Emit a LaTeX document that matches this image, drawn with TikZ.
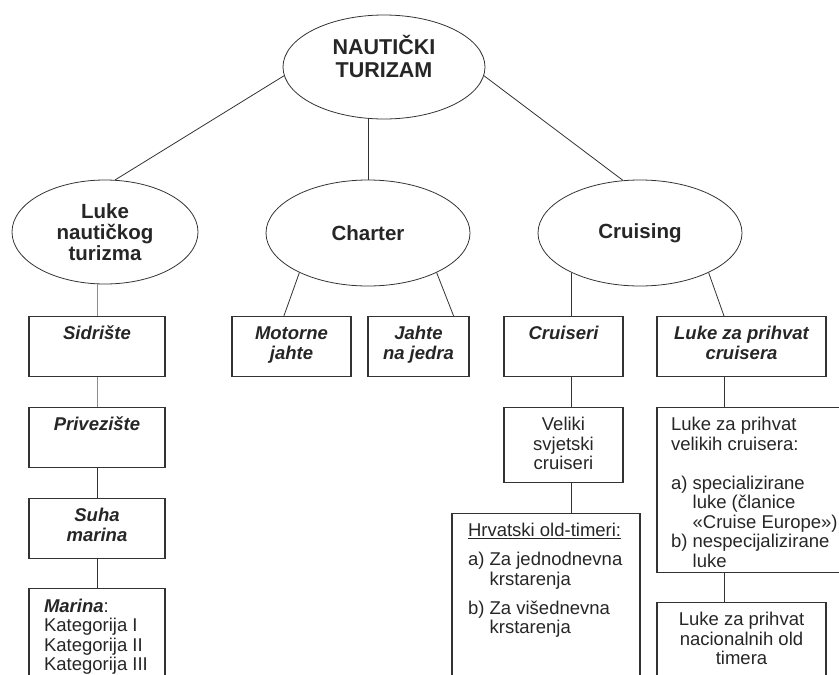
\documentclass[tikz,border=0pt]{standalone}
\usepackage{fontspec}
\setmainfont{Liberation Sans}
\usetikzlibrary{shapes.geometric, positioning}

\newcommand{\itm}[2]{\hangindent=1.17em\hangafter=1\noindent\makebox[1.17em][l]{#1}#2\par}
\newcommand{\boxtext}[3]{\parbox[c][#2][t]{#1}{\fontsize{18.5}{19.5}\selectfont\vspace*{9.5pt}#3}}

\tikzset{
  ell/.style={ellipse, draw=black!80, line width=0.8pt, inner sep=0pt, align=center,
    minimum width=204pt, minimum height=106pt, text=black!85,
    font=\bfseries\fontsize{20.5}{21}\selectfont},
  box/.style={draw=black!80, line width=1.1pt, inner sep=0pt, text=black!85,
    font=\bfseries\itshape},
  plainbox/.style={box, font=\mdseries\upshape},
  link/.style={draw=black!80, line width=0.8pt},
}

\begin{document}
\begin{tikzpicture}[x=1pt, y=-1pt]
    \useasboundingbox (0,0) rectangle (839,675);
    \clip (0,0) rectangle (839,675);
    % ellipses
    \node[ell, minimum width=202pt, minimum height=104pt, text height=38.5pt, text depth=18.1pt,
      font=\bfseries\fontsize{21.5}{22.5}\selectfont] (top) at (384,67) {NAUTIČKI\\TURIZAM};
    \node[ell, minimum width=186pt, minimum height=104pt] (luke) at (105,232) {Luke\\nautičkog\\turizma};
    \node[ell] (charter) at (368,233) {Charter};
    \node[ell] (cruising) at (640,233) {Cruising};
    % first row of boxes
    \node[box, anchor=north] (sid) at (97,316) {\boxtext{136pt}{60pt}{\centering\strut Sidrište}};
    \node[box, anchor=north] (mot) at (291.5,316) {\boxtext{119pt}{60pt}{\centering\strut Motorne\\jahte}};
    \node[box, anchor=north] (jed) at (418.5,316) {\boxtext{101pt}{60pt}{\centering\strut Jahte\\na jedra}};
    \node[box, anchor=north] (cru) at (563.5,316) {\boxtext{119pt}{60pt}{\centering\strut Cruiseri}};
    \node[box, anchor=north] (lzp) at (741.5,316) {\boxtext{169pt}{60pt}{\centering\strut Luke za prihvat\\cruisera}};
    % left column
    \node[box, below=30pt of sid] (priv) {\boxtext{136pt}{60pt}{\centering\strut Privezište}};
    \node[box, below=30pt of priv] (suha) {\boxtext{136pt}{60pt}{\centering\strut Suha\\marina}};
    \node[plainbox, below=29pt of suha] (mar) {\boxtext{136pt}{120pt}{\leftskip=15pt\strut\textbf{\textit{Marina}}:\newline Kategorija I\newline Kategorija II\newline Kategorija III}};
    % cruising columns
    \node[plainbox, below=30pt of cru] (vel) {\boxtext{119pt}{75pt}{\centering\strut Veliki\\svjetski\\cruiseri}};
    \node[plainbox, below=30pt of vel, xshift=-17.5pt] (hrv) {\boxtext{188pt}{190pt}{\leftskip=16pt\strut\underline{Hrvatski old-timeri:}\par\vspace{9.5pt}\itm{a)}{Za jednodnevna\newline krstarenja}\vspace{9.5pt}\itm{b)}{Za višednevna\newline krstarenja}}};
    \node[plainbox, below=30pt of lzp.south west, anchor=north west] (lvc) {\boxtext{200pt}{165pt}{\leftskip=14pt\strut Luke za prihvat\newline velikih cruisera:\par\vspace{19.5pt}\itm{a)}{specializirane\newline luke (članice\newline «Cruise Europe»)}\itm{b)}{nespecijalizirane\newline luke}}};
    \node[plainbox, below=29pt of lvc.south west, anchor=north west] (nac) {\boxtext{169pt}{120pt}{\centering\strut Luke za prihvat\\nacionalnih old\\timera}};
    % column lines
    \coordinate (cx) at (cruising.210);
    \coordinate (lx) at (724,0);
    % connectors
    \draw[link] (top.185) -- (luke.79);
    \draw[link] (charter.north) -- (charter.north |- top.south);
    \draw[link] (top.355) -- (cruising.108);
    \draw[link, draw=black!45] (sid.north) -- (sid.north |- luke.south);
    \draw[link, draw=black!45] (sid) -- (priv);
    \draw[link] (priv) -- (suha);
    \draw[link] (suha) -- (mar);
    \draw[link] (charter.210) -- (mot.104);
    \draw[link] (charter.330) -- (jed.41);
    \draw[link] (cx) -- (cx |- cru.north);
    \draw[link] (cx |- cru.south) -- (cx |- vel.north);
    \draw[link] (cx |- vel.south) -- (cx |- hrv.north);
    \draw[link] (cruising.330) -- (lx |- lzp.north);
    \draw[link] (lx |- lzp.south) -- (lx |- lvc.north);
    \draw[link] (lx |- lvc.south) -- (lx |- nac.north);
\end{tikzpicture}
\end{document}
